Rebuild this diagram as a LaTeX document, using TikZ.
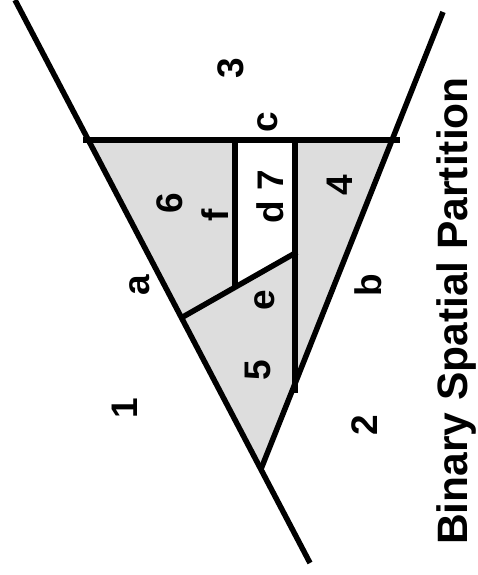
\documentclass[tikz,border=0pt]{standalone}
\usepackage{fontspec}
\setmainfont{Liberation Sans}
\begin{document}
\begin{tikzpicture}[x=1pt,y=-1pt,
  edge/.style={line width=5.5pt},
  lbl/.style={font=\fontsize{37}{37}\selectfont\bfseries, rotate=90, inner sep=0pt},
  ttl/.style={font=\fontsize{42.5}{42.5}\selectfont\bfseries, rotate=90, inner sep=0pt}]
\useasboundingbox (0,0) rectangle (477,575);
\definecolor{cellgray}{HTML}{DDDDDD}
% points
\coordinate (A1) at (15,0);
\coordinate (A2) at (310,563);
\coordinate (B1) at (443,12);
\coordinate (V) at (261,469);
\coordinate (CL) at (83,140);
\coordinate (CR) at (400,140);
\coordinate (TL) at (88,140);
\coordinate (TR) at (392,140);
\coordinate (D1) at (295,140);
\coordinate (D2) at (295,393);
\coordinate (E1) at (181,318);
\coordinate (E2) at (297,252);
\coordinate (F1) at (235,140);
\coordinate (F2) at (235,287);
% fill
\fill[cellgray] (TL) -- (TR) -- (V) -- cycle;
\fill[white] (F1) -- (D1) -- (295,253) -- (F2) -- cycle;
% lines
\draw[edge] (A1) -- (A2);
\draw[edge] (B1) -- (V);
\draw[edge] (CL) -- (CR);
\draw[edge] (D1) -- (D2);
\draw[edge] (E1) -- (E2);
\draw[edge] (F1) -- (F2);
% labels
\node[lbl] (l3) at (231,68) {3};
\node[lbl] (lc) at (268,122) {c};
\node[lbl] (l6) at (170,203) {6};
\node[lbl] (lf) at (215,215) {f};
\node[lbl] (ld7) at (270,197) {d 7};
\node[lbl] (l4) at (340,185) {4};
\node[lbl] (la) at (140,285) {a};
\node[lbl] (le) at (265,300) {e};
\node[lbl] (lb) at (368,285) {b};
\node[lbl] (l5) at (258,370) {5};
\node[lbl] (l1) at (125,408) {1};
\node[lbl] (l2) at (365,425) {2};
\node[ttl] (title) at (457,311) {Binary Spatial Partition};
\end{tikzpicture}
\end{document}
